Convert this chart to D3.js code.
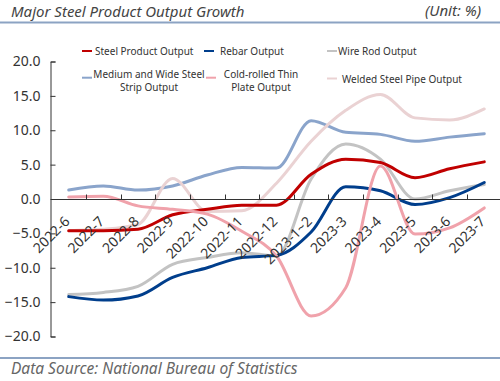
<!DOCTYPE html>
<html><head><meta charset="utf-8">
<script src="https://cdn.jsdelivr.net/npm/d3@7"></script>
<style>
html,body{margin:0;padding:0;background:#fff;}
svg{display:block;font-family:"Noto Sans",sans-serif;}
</style></head>
<body><svg id="c" width="500" height="381"></svg>
<script>
const categories = ["2022-6","2022-7","2022-8","2022-9","2022-10","2022-11","2022-12","2023-1~2","2023-3","2023-4","2023-5","2023-6","2023-7"];
const steelProduct = [-4.6,-4.6,-4.4,-2.3,-1.5,-0.9,-0.9,3.6,5.8,5.3,3.1,4.4,5.4];
const rebar = [-14.2,-14.7,-14.1,-11.4,-10.0,-8.5,-8.2,-4.8,1.8,1.2,-0.8,0.2,2.4];
const wireRod = [-13.9,-13.6,-12.7,-9.5,-8.5,-7.8,-8.3,2.9,8.0,5.8,0.0,1.2,2.1];
const mediumWideStrip = [1.3,1.9,1.3,1.9,3.5,4.6,4.5,11.4,9.7,9.4,8.4,9.0,9.5];
const coldRolledPlate = [0.3,0.4,-1.0,-1.5,-2.2,-4.7,-8.3,-17.0,-12.9,4.8,-5.1,-4.2,-1.3];
const weldedPipe = [-4.6,-4.4,-3.7,3.0,-1.8,-1.7,2.3,8.4,12.9,15.2,11.8,11.5,13.1];
const yTicks = [-20,-15,-10,-5,0,5,10,15,20];
const seriesNames = ["Steel Product Output","Rebar Output","Wire Rod Output","Medium and Wide Steel Strip Output","Cold-rolled Thin Plate Output","Welded Steel Pipe Output"];

const series = [
  {name:seriesNames[0], values:steelProduct, color:"#c00000", lines:["Steel Product Output"]},
  {name:seriesNames[1], values:rebar, color:"#003e8c", lines:["Rebar Output"]},
  {name:seriesNames[2], values:wireRod, color:"#c3c3c3", lines:["Wire Rod Output"]},
  {name:seriesNames[3], values:mediumWideStrip, color:"#8aa4cb", lines:["Medium and Wide Steel","Strip Output"]},
  {name:seriesNames[4], values:coldRolledPlate, color:"#f0a2ab", lines:["Cold-rolled Thin","Plate Output"]},
  {name:seriesNames[5], values:weldedPipe, color:"#ead2d3", lines:["Welded Steel Pipe Output"]}
];

const svg = d3.select("#c");
const W = 500;

// header
svg.append("text").attr("x",11).attr("y",16.5).attr("font-size",15).attr("font-style","italic")
  .attr("fill","#444").text("Major Steel Product Output Growth");
svg.append("text").attr("x",481).attr("y",16).attr("font-size",15).attr("font-style","italic")
  .attr("text-anchor","end").attr("fill","#444").text("(Unit: %)");
svg.append("line").attr("x1",0).attr("x2",W).attr("y1",22.5).attr("y2",22.5).attr("stroke","#8ca3c3").attr("stroke-width",2);
svg.append("line").attr("x1",0).attr("x2",W).attr("y1",358).attr("y2",358).attr("stroke","#8ca3c3").attr("stroke-width",2);
svg.append("text").attr("x",11).attr("y",374).attr("font-size",15.5).attr("font-style","italic")
  .attr("fill","#666").text("Data Source: National Bureau of Statistics");

const x = d3.scaleBand().domain(categories).range([51.4, 501.6]);
const y = d3.scaleLinear().domain([-20,20]).range([336.5, 61.5]);
const cx = d => x(d) + x.bandwidth()/2;
const axisColor = "#333";

// y axis
const yAxis = d3.axisLeft(y).tickValues(yTicks).tickSize(-5).tickPadding(10).tickFormat(d3.format(".1f"));
const gy = svg.append("g").attr("transform","translate(50.5,0)").call(yAxis);
gy.select(".domain").attr("stroke",axisColor);
gy.selectAll(".tick line").attr("stroke",axisColor);
gy.selectAll(".tick text").attr("fill","#333").attr("font-size",14).attr("font-family","Noto Sans");

// lines
const line = d3.line().x((d,i)=>cx(categories[i])).y(d=>y(d)).curve(d3.curveMonotoneX);
const order = [3,5,2,1,0,4];
svg.append("g").selectAll("path").data(order.map(i=>series[i])).join("path")
  .attr("d",s=>line(s.values)).attr("fill","none").attr("stroke",s=>s.color)
  .attr("stroke-width",3).attr("stroke-linejoin","round").attr("stroke-linecap","round");

// x axis at zero
const y0 = Math.round(y(0))+0.5;
const gx = svg.append("g").attr("transform",`translate(0,${y0})`);
gx.append("line").attr("x1",x.range()[0]).attr("x2",x.range()[1]).attr("stroke",axisColor);
gx.selectAll("line.tk").data(categories.slice(1)).join("line").attr("class","tk")
  .attr("x1",d=>Math.round(x(d))+0.5).attr("x2",d=>Math.round(x(d))+0.5).attr("y1",0).attr("y2",-5).attr("stroke",axisColor);
gx.selectAll("text").data(categories).join("text")
  .attr("transform",d=>`translate(${cx(d)-2},19) rotate(-45)`)
  .attr("text-anchor","end").attr("dominant-baseline","central")
  .attr("font-size",14).attr("fill","#333").text(d=>d);

// legend
const legendPos = [
  {sx:82, tx:95, y:51, anchor:"start"},
  {sx:204, tx:220, y:51, anchor:"start"},
  {sx:327, tx:338, y:51, anchor:"start"},
  {sx:82, tx:149, y:77.7, anchor:"middle"},
  {sx:206, tx:261, y:77.7, anchor:"middle"},
  {sx:327, tx:342, y:78.5, anchor:"start"}
];
const lg = svg.append("g");
series.forEach((s,i)=>{
  const p = legendPos[i];
  lg.append("line").attr("x1",p.sx).attr("x2",p.sx+10).attr("y1",p.y).attr("y2",p.y)
    .attr("stroke",s.color).attr("stroke-width",2);
  const n = s.lines.length;
  s.lines.forEach((t,k)=>{
    const ty = n===1 ? p.y : (p.y - 3.7 + k*13);
    lg.append("text").attr("x",p.tx).attr("y",ty).attr("text-anchor",p.anchor)
      .attr("dominant-baseline","central").attr("font-size",10).attr("fill","#333").text(t);
  });
});
</script></body></html>
